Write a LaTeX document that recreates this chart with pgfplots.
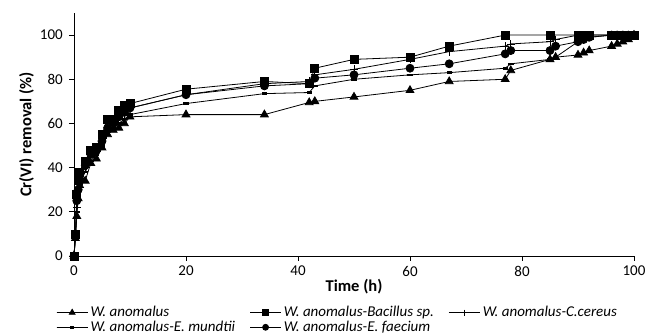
\documentclass[border=0pt]{standalone}
\usepackage{fontspec}
\setmainfont{Carlito}
\usepackage{pgfplots}
\pgfplotsset{compat=1.18}
\begin{document}
\fontsize{15}{17}\selectfont
\begin{tikzpicture}
\path[use as bounding box] (-74pt,-80pt) rectangle (572pt,256pt);
\begin{axis}[
  at={(0,0)}, anchor=south west,
  scale only axis, width=560pt, height=243pt,
  xmin=0, xmax=100, ymin=0, ymax=110,
  axis lines=left, axis line style={-, line width=0.8pt},
  xtick={0,20,40,60,80,100}, ytick={0,20,40,60,80,100},
  tick align=outside, major tick length=5pt, tick style={line width=0.8pt, black},
  /pgf/number format/assume math mode=true,
  ticklabel style={font=\fontsize{15}{17}\selectfont},
  yticklabel style={xshift=-1pt},
  xlabel={\textbf{Time (h)}}, ylabel={\textbf{Cr(VI) removal (\%)}},
  xlabel style={font=\fontsize{16.5}{18}\selectfont, yshift=7pt},
  ylabel style={font=\fontsize{16.5}{18}\selectfont, yshift=-4pt},
  clip=false,
  every axis plot/.append style={black, line width=0.8pt},
  legend columns=3,
  legend style={at={(-0.032,-0.2)}, anchor=north west, draw=none, fill=none,
    font=\itshape\fontsize{15}{17}\selectfont, cells={anchor=west},
    nodes={inner sep=1.5pt},
    column sep=1pt, /tikz/every even column/.append style={column sep=13pt},
    row sep=-1pt, inner sep=0pt},
  legend image code/.code={\draw[#1] (0pt,0pt) -- (31pt,0pt); \draw[#1, every mark/.append style={scale=0.75}, mark repeat=2, mark phase=2] plot coordinates {(0pt,0pt) (15.5pt,0pt) (31pt,0pt)};},
]
\addplot[mark=triangle*, mark size=4.5pt] coordinates {
(0,0) (0.25,8) (0.5,18) (0.75,26) (1,32) (2,34) (3,42) (4,44) (5,49) (6,55) (7,57) (8,58) (9,60) (10,63)
(20,64) (34,64) (42,69.5) (43,70) (50,72) (60,75) (67,79) (77,80) (78,84) (85,89) (86,90) (90,91) (91,92) (92,93)
(96,95) (97,96) (98,97) (99,98) (100,100)};
\addlegendentry{W. anomalus}
\addplot[mark=square*, mark size=4pt] coordinates {
(0,0) (0.25,10) (0.5,28) (0.75,34) (1,38) (2,43) (3,48) (4,49) (5,55) (6,62) (7,62) (8,66) (9,68) (10,69)
(20,75.5) (34,79) (42,78) (43,85) (50,89) (60,90) (67,95) (77,100) (85,100) (90,100) (91,100) (92,100)
(96,100) (97,100) (98,100) (99,100) (100,100)};
\addlegendentry{W. anomalus-Bacillus sp.}
\addplot[mark=+, mark size=4pt, mark options={line width=0.8pt}] coordinates {
(0,0) (0.25,9) (0.5,22) (0.75,30) (1,35) (2,40) (3,45) (4,47) (5,52) (6,58) (7,60) (8,62) (9,64) (10,67)
(20,73) (34,78) (42,79) (43,82) (50,84.5) (60,89) (67,92.5) (77,95) (78,96) (85,97) (86,98) (90,100) (91,100) (92,100)
(96,100) (97,100) (98,100) (99,100) (100,100)};
\addlegendentry{W. anomalus-C.cereus}
\addplot[mark=square*, mark size=1.4pt, mark options={xscale=1.6, yscale=0.6}] coordinates {
(0,0) (0.25,8) (0.5,20) (0.75,27) (1,33) (2,38) (3,43) (4,46) (5,50) (6,56) (7,58) (8,60) (9,62) (10,64)
(20,69) (34,73.5) (42,74) (43,77) (50,80) (60,82) (67,83) (77,85) (78,87) (85,89) (86,90) (90,97) (91,98) (92,99)
(96,100) (97,100) (98,100) (99,100) (100,100)};
\addlegendentry{W. anomalus-E. mundtii}
\addplot[mark=*, mark size=4pt] coordinates {
(0,0) (0.25,10) (0.5,25) (0.75,30) (1,35) (2,41) (3,46) (4,48) (5,52) (6,58) (7,60) (8,63) (9,65) (10,67)
(20,73) (34,77) (42,78) (43,80.5) (50,82) (60,85) (67,87) (77,91.5) (78,93) (85,93) (86,95) (90,97) (91,98) (92,99)
(96,100) (97,100) (98,100) (99,100) (100,100)};
\addlegendentry{W. anomalus-E. faecium}
\end{axis}
\end{tikzpicture}
\end{document}
